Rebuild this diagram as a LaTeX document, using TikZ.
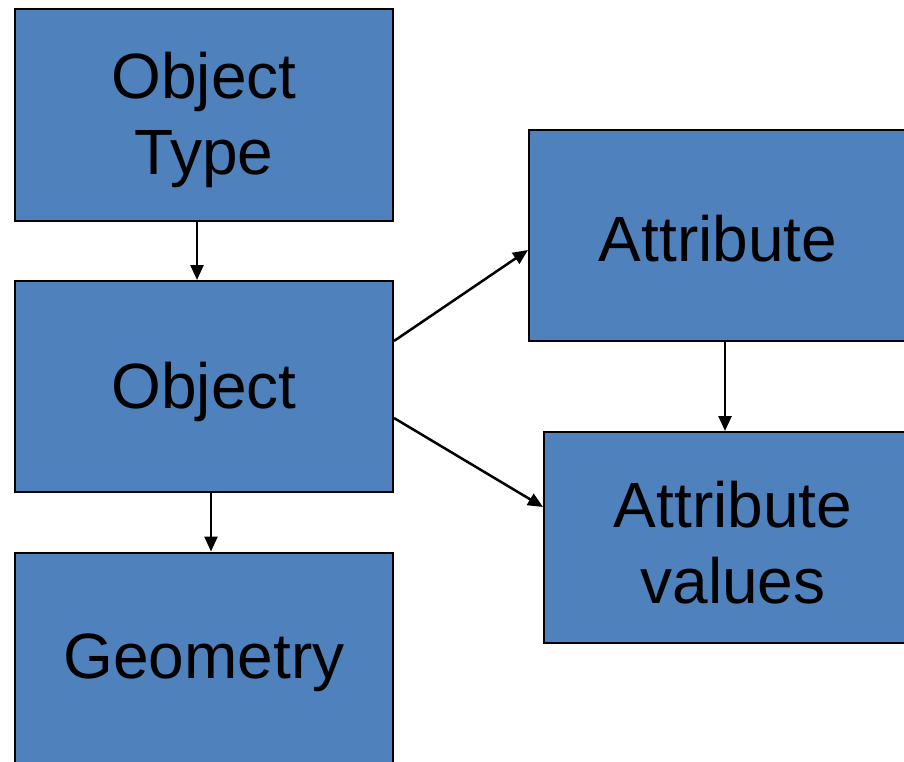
\documentclass[tikz,border=0pt]{standalone}
\usepackage{fontspec}
\setmainfont{Liberation Sans}
\usetikzlibrary{arrows.meta}
\definecolor{boxblue}{HTML}{4F81BD}
\begin{document}
\begin{tikzpicture}[x=1pt,y=-1pt,
  box/.style={draw=black, line width=2pt, fill=boxblue, minimum width=378pt, minimum height=211pt, inner sep=0pt},
  lbl/.style={align=center, inner sep=0pt, font=\fontsize{64}{76}\selectfont},
  arr/.style={line width=2.5pt, -{Triangle[length=15pt,width=13pt]}}]
\useasboundingbox (0,0) rectangle (904,762);
\clip (0,0) rectangle (904,762);
\node[box] (ot) at (204,115) {};
\node[box] (o) at (204,386.5) {};
\node[box] (g) at (204,658) {};
\node[box] (a) at (718,235.5) {};
\node[box] (av) at (733,537.5) {};
\node[lbl] (otl) at ([yshift=-5pt]ot.center) {Object\\Type};
\node[lbl] (ol) at ([yshift=-5pt]o.center) {Object};
\node[lbl] (gl) at ([yshift=-5pt]g.center) {Geometry};
\node[lbl] (al) at ([yshift=-3pt]a.center) {Attribute};
\node[lbl] (avl) at ([yshift=-5pt]av.center) {Attribute\\values};
\coordinate (c1) at (197,0);
\coordinate (c2) at (211,0);
\coordinate (c3) at (725,0);
\coordinate (r1) at (0,341);
\coordinate (r2) at (0,250);
\coordinate (r3) at (0,418);
\coordinate (r4) at (0,507);
\draw[arr] (ot.south -| c1) -- (o.north -| c1);
\draw[arr] (o.south -| c2) -- (g.north -| c2);
\draw[arr] (a.south -| c3) -- (av.north -| c3);
\draw[arr] (o.east |- r1) -- (a.west |- r2);
\draw[arr] (o.east |- r3) -- (av.west |- r4);
\end{tikzpicture}
\end{document}
